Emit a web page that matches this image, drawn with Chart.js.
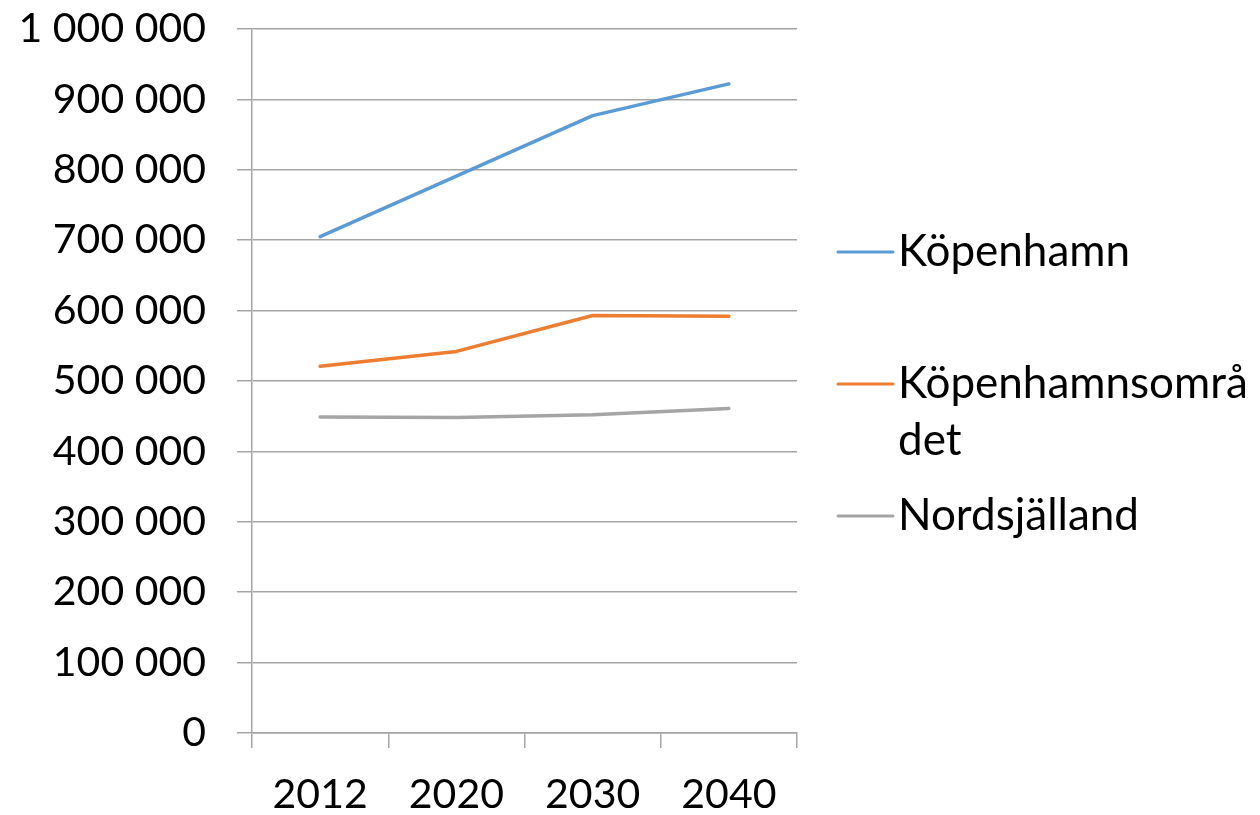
<!DOCTYPE html>
<html>
<head>
<meta charset="utf-8">
<script src="https://cdn.jsdelivr.net/npm/chart.js@4/dist/chart.umd.min.js"></script>
<style>
  html, body { margin: 0; padding: 0; background: #fff; }
  #wrap { width: 1260px; height: 815px; }
</style>
</head>
<body>
<div id="wrap"><canvas id="chart"></canvas></div>
<script>
const years = ['2012', '2020', '2030', '2040']
const kopenhamn = [705000, 791000, 877000, 922000]
const kopenhamnsomradet = [521000, 542000, 593000, 592000]
const nordsjalland = [449000, 448000, 452000, 461000]
const yTickLabels = ['0', '100 000', '200 000', '300 000', '400 000', '500 000',
    '600 000', '700 000', '800 000', '900 000', '1 000 000']

const FONT = 'Lato'
const GRID = '#a6a6a6'

Chart.defaults.font.family = FONT
Chart.defaults.color = '#000'

// legend drawn by hand so the long label can wrap like the original
const sideLegend = {
    id: 'sideLegend',
    afterDraw(chart) {
        const { ctx, chartArea } = chart
        const lineX0 = 838, lineX1 = 893, textX = 898
        const maxW = chart.width - textX
        const step = 132
        const lineGap = 57
        const mid = (chartArea.top + chartArea.bottom) / 2 + 3
        const sets = chart.data.datasets
        const y0 = mid - step * (sets.length - 1) / 2

        ctx.save()
        ctx.font = '44px ' + FONT
        ctx.textBaseline = 'middle'
        ctx.textAlign = 'left'
        sets.forEach((ds, i) => {
            const y = y0 + i * step
            ctx.strokeStyle = ds.borderColor
            ctx.lineWidth = 3
            ctx.lineCap = 'round'
            ctx.beginPath()
            ctx.moveTo(lineX0, y)
            ctx.lineTo(lineX1, y)
            ctx.stroke()

            // break by characters when the label runs past the edge
            const lines = []
            let cur = ''
            for (const ch of ds.label) {
                if (cur && ctx.measureText(cur + ch).width > maxW) {
                    lines.push(cur)
                    cur = ch
                } else cur += ch
            }
            lines.push(cur)
            ctx.fillStyle = '#000'
            lines.forEach((t, j) => ctx.fillText(t, textX, y + j * lineGap))
        })
        ctx.restore()
    }
}

const data = {
    labels: years,
    datasets: [
        { label: 'Köpenhamn', data: kopenhamn, borderColor: '#5b9bd5' },
        { label: 'Köpenhamnsområdet', data: kopenhamnsomradet, borderColor: '#ed7d31' },
        { label: 'Nordsjälland', data: nordsjalland, borderColor: '#a5a5a5' }
    ]
}

const options = {
    responsive: true,
    maintainAspectRatio: false,
    animation: false,
    layout: { padding: { top: 29, right: 463, bottom: 0, left: 0 } },
    elements: {
        line: { borderWidth: 3.5, tension: 0, borderCapStyle: 'round', borderJoinStyle: 'round' },
        point: { radius: 0, hoverRadius: 0 }
    },
    plugins: {
        legend: { display: false },
        tooltip: { enabled: false }
    },
    scales: {
        x: {
            offset: true,
            grid: { offset: true, drawOnChartArea: false, drawTicks: true, tickLength: 15, color: GRID, lineWidth: 1.5 },
            border: { color: GRID, width: 1.5 },
            ticks: { font: { size: 41 }, padding: 22, maxRotation: 0 },
            afterFit: scale => {
                scale.height = 82
                scale.paddingLeft = 0
                scale.paddingRight = 0
            }
        },
        y: {
            min: 0,
            max: 1000000,
            grid: { color: GRID, lineWidth: 1.5, tickLength: 15 },
            border: { color: GRID, width: 1.5 },
            ticks: {
                stepSize: 100000,
                font: { size: 41 },
                padding: 31,
                callback: (v, i) => yTickLabels[i]
            },
            afterFit: scale => {
                scale.width = 252
                scale.paddingTop = 0
                scale.paddingBottom = 0
            }
        }
    }
}

new Chart('chart', { type: 'line', data, options, plugins: [sideLegend] })
</script>
</body>
</html>
